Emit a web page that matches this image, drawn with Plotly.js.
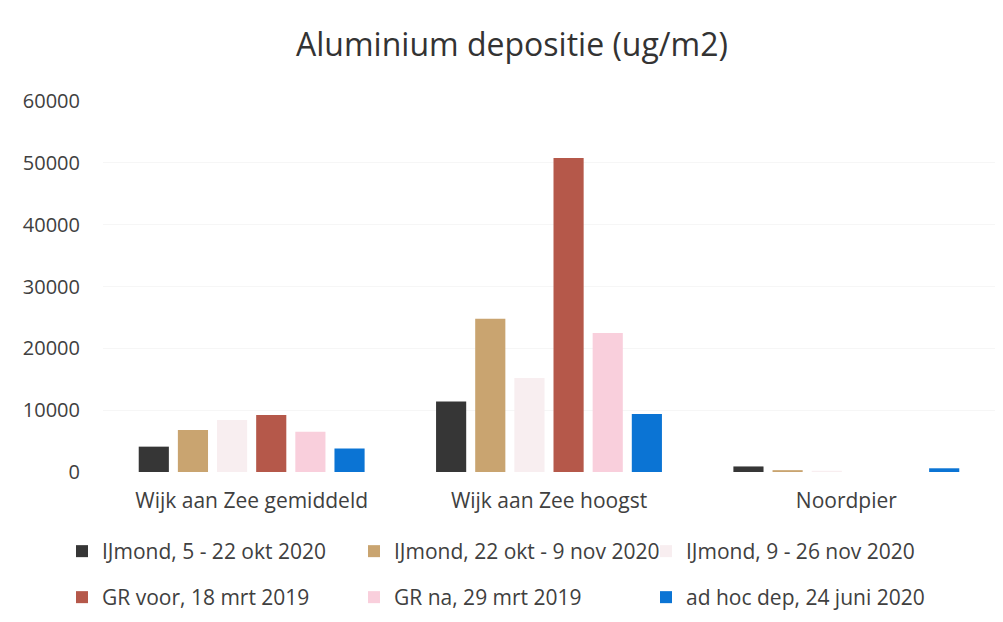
<!DOCTYPE html>
<html><head><meta charset="utf-8">
<script src="https://cdn.plot.ly/plotly-3.0.1.min.js"></script>
<style>html,body{margin:0;padding:0;background:#fff}#chart{width:1003px;height:622px}</style>
</head><body><div id="chart"></div>
<script>
const categories = ["Wijk aan Zee gemiddeld", "Wijk aan Zee hoogst", "Noordpier"];
const seriesNames = ["IJmond, 5 - 22 okt 2020", "IJmond, 22 okt - 9 nov 2020", "IJmond, 9 - 26 nov 2020",
                     "GR voor, 18 mrt 2019", "GR na, 29 mrt 2019", "ad hoc dep, 24 juni 2020"];
const ijmond1 = [4100, 11400, 900];
const ijmond2 = [6800, 24800, 300];
const ijmond3 = [8400, 15200, 200];
const grVoor  = [9200, 50800, 0];
const grNa    = [6500, 22500, 0];
const adHoc   = [3800, 9400, 600];
const yTicks = [0, 10000, 20000, 30000, 40000, 50000, 60000];

const colors = ["#363636", "#c9a470", "#f8eef0", "#b5584a", "#f9cfdc", "#0b74d4"];
const values = [ijmond1, ijmond2, ijmond3, grVoor, grNa, adHoc];
const legendIds = ["legend", "legend", "legend", "legend2", "legend2", "legend2"];

const traces = values.map((v, i) => ({
  type: "bar", x: categories, y: v, name: seriesNames[i],
  marker: {color: colors[i]}, legend: legendIds[i], hoverinfo: "none"
}));

const fam = "'Open Sans', sans-serif";
const tickFontY = {family: fam, color: "#404040", size: 20};
const tickFontX = {family: fam, color: "#404040", size: 21};
const legFont = {family: fam, color: "#404040", size: 21};
const layout = {
  width: 1003, height: 622,
  margin: {l: 103, r: 8, t: 101, b: 150},
  paper_bgcolor: "#fff", plot_bgcolor: "#fff",
  font: {family: fam, color: "#404040", size: 20},
  title: {text: "Aluminium depositie (ug/m2)", x: 512/1003, xanchor: "center", xref: "container",
          y: 1 - 45/622, yanchor: "middle", yref: "container",
          font: {family: fam, size: 32, color: "#333"}},
  barmode: "group", bargap: 0.21, bargroupgap: 0.23,
  xaxis: {showline: false, zeroline: false, showgrid: false, ticks: "outside", ticklen: 10, tickcolor: "rgba(0,0,0,0)",
          tickfont: tickFontX},
  yaxis: {range: [0, 60000], tickvals: yTicks, ticktext: yTicks.map(String), showgrid: true, gridcolor: "#f6f6f6",
          zeroline: false, showline: false, ticks: "outside", ticklen: 18, tickcolor: "rgba(0,0,0,0)", tickfont: tickFontY},
  legend: {orientation: "h", x: 62/1003, xanchor: "left", xref: "container", y: 1 - 531/622, yanchor: "top", yref: "container",
           entrywidth: 247, itemwidth: 30, font: legFont, traceorder: "normal", bgcolor: "rgba(0,0,0,0)"},
  legend2: {orientation: "h", x: 62/1003, xanchor: "left", xref: "container", y: 1 - 577/622, yanchor: "top", yref: "container",
           entrywidth: 247, itemwidth: 30, font: legFont, traceorder: "normal", bgcolor: "rgba(0,0,0,0)"},
  showlegend: true
};
Plotly.newPlot("chart", traces, layout, {displayModeBar: false, staticPlot: true});
</script></body></html>
